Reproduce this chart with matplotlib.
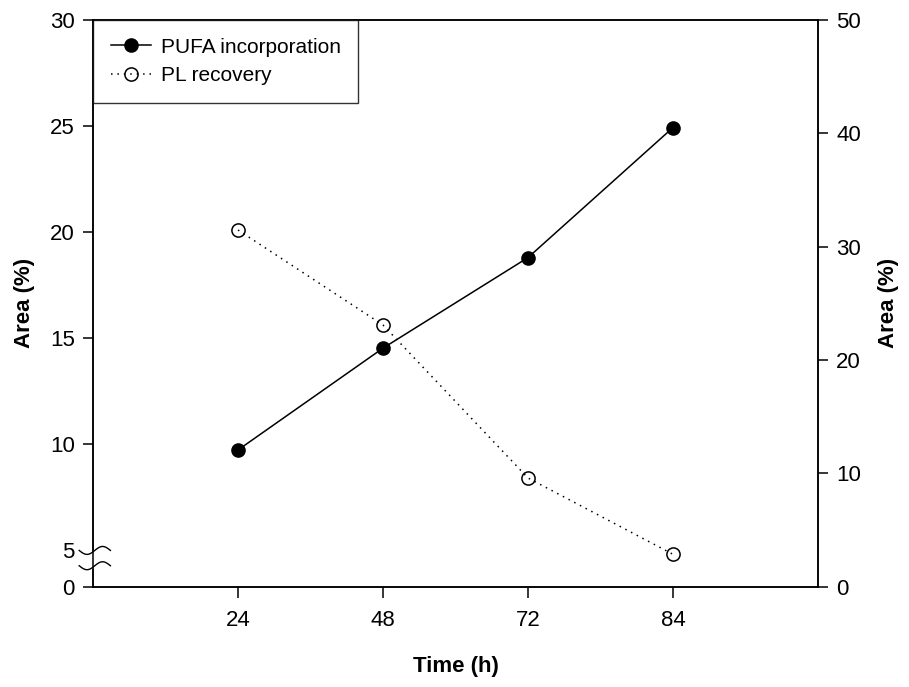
import numpy as np
import matplotlib
matplotlib.use("Agg")
import matplotlib.pyplot as plt

plt.rcParams['font.family'] = ['Liberation Sans', 'DejaVu Sans']

# data
time_labels = ['24', '48', '72', '84']
pufa_incorporation = [9.73, 14.53, 18.80, 24.93]   # left axis
pl_recovery = [31.47, 23.09, 9.59, 2.86]           # right axis

left_ticks = [0, 5, 10, 15, 20, 25, 30]
right_ticks = [0, 10, 20, 30, 40, 50]

# broken left axis: 0-5 is squeezed
K = 0.343


def fwd(y):
    y = np.asarray(y, dtype=float)
    return np.where(y >= 5, y, 5 - (5 - y) * K)


def bwd(z):
    z = np.asarray(z, dtype=float)
    return np.where(z >= 5, z, 5 - (5 - z) / K)


fig = plt.figure(figsize=(9.09, 6.87), dpi=100)
ax = fig.add_axes([0.1023, 0.146, 0.7976, 0.8249])
ax2 = ax.twinx()

x = np.arange(1, len(time_labels) + 1)

ax.set_yscale('function', functions=(fwd, bwd))
l1, = ax.plot(x, pufa_incorporation, color='black', lw=1.1, marker='o',
              ms=9.5, mfc='black', mec='black', label='PUFA incorporation')
l2, = ax2.plot(x, pl_recovery, color='black', lw=1.1, dashes=(1.0, 3.2),
               marker='o', ms=9.5, mfc='none', mec='black', mew=1.1,
               label='PL recovery')

ax.set_xlim(0, 5)
ax.set_ylim(0, 30)
ax2.set_ylim(0, 50)

ax.set_xticks(x)
ax.set_xticklabels(time_labels)
ax.set_yticks(left_ticks)
ax.set_yticklabels([str(v) for v in left_ticks])
ax2.set_yticks(right_ticks)
ax2.set_yticklabels([str(v) for v in right_ticks])

for a in (ax, ax2):
    for s in a.spines.values():
        s.set_linewidth(1.1)
        s.set_color('black')

ax.tick_params(axis='x', direction='out', length=8, width=1.1, pad=9, labelsize=16)
ax.tick_params(axis='y', direction='out', length=7, width=1.1, pad=6, labelsize=16)
ax2.tick_params(axis='y', direction='out', length=7, width=1.1, pad=6, labelsize=16)

# no tick mark at the break
for t in ax.yaxis.get_major_ticks():
    if abs(t.get_loc() - 5) < 1e-6:
        t.tick1line.set_visible(False)

ax.set_xlabel('Time (h)', fontsize=16, fontweight='bold', labelpad=18)
ax.set_ylabel('Area (%)', fontsize=16, fontweight='bold', labelpad=11)
ax2.set_ylabel('Area (%)', fontsize=16, fontweight='bold', labelpad=12)

# axis break squiggles
t = np.linspace(0, 1, 60)
bx = -0.019 + 0.043 * t
upper = 0.064 - 0.007 * np.sin(2 * np.pi * t)
lower = 0.037 - 0.007 * np.sin(2 * np.pi * t)
ax.fill_between(bx, lower, upper, color='white', transform=ax.transAxes,
                clip_on=False, zorder=5)
ax.plot(bx, upper, color='black', lw=1.0, transform=ax.transAxes,
        clip_on=False, zorder=6)
ax.plot(bx, lower, color='black', lw=1.0, transform=ax.transAxes,
        clip_on=False, zorder=6)

leg = ax2.legend(handles=[l1, l2], loc='upper left', bbox_to_anchor=(0, 1),
                 borderaxespad=0, fontsize=15, frameon=True, fancybox=False,
                 handlelength=1.95, handletextpad=0.45, labelspacing=0.45,
                 borderpad=0.85)
leg.get_frame().set_edgecolor('black')
leg.get_frame().set_linewidth(1.0)

fig.savefig('out.png', dpi=100)
